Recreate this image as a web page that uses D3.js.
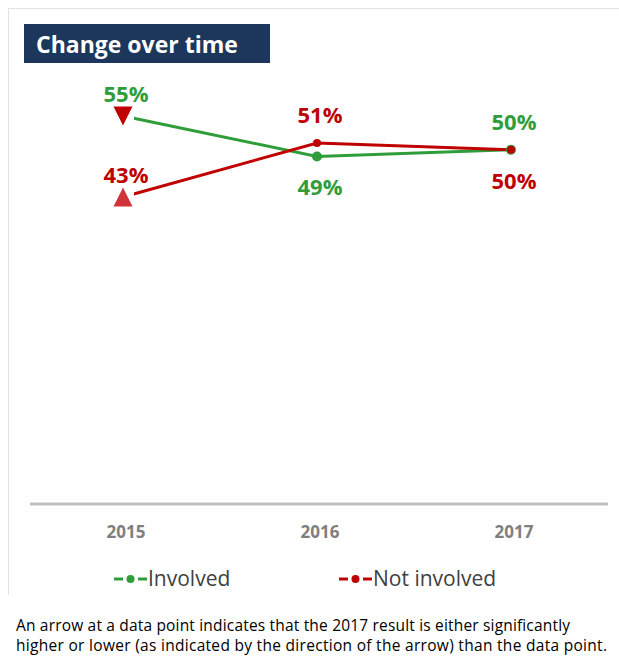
<!DOCTYPE html>
<html>
<head>
<meta charset="utf-8">
<script src="https://cdn.jsdelivr.net/npm/d3@7"></script>
<style>
  body { margin: 0; background: #fff; }
  svg { display: block; font-family: 'Open Sans', 'Noto Sans', sans-serif; }
</style>
</head>
<body>
<div id="chart"></div>
<script>
// Data
var years = ['2015', '2016', '2017'];
var involved = [55, 49, 50];
var notInvolved = [43, 51, 50];
// arrow = significance marker vs 2017, null = plain dot
var involvedArrows = ['down', null, null];
var notInvolvedArrows = ['up', null, null];
// where the value label sits
var involvedLabelSide = ['above', 'below', 'above'];
var notInvolvedLabelSide = ['above', 'above', 'below'];
var seriesNames = ['Involved', 'Not involved'];
var footnoteLines = [
  'An arrow at a data point indicates that the 2017 result is either significantly',
  'higher or lower (as indicated by the direction of the arrow) than the data point.'
];

var attrs = {
  svgWidth: 619,
  svgHeight: 659,
  green: '#2f9e3a',
  red: '#c00000',
  redLight: '#d0343a',
  axisColor: '#bfbfbf',
  tickColor: '#7f7f7f',
  textColor: '#404040',
  titleFill: '#1c365c'
};

var series = [
  { name: seriesNames[0], values: involved, arrows: involvedArrows, sides: involvedLabelSide, color: attrs.green },
  { name: seriesNames[1], values: notInvolved, arrows: notInvolvedArrows, sides: notInvolvedLabelSide, color: attrs.red }
];

var svg = d3.select('#chart').append('svg')
  .attr('width', attrs.svgWidth)
  .attr('height', attrs.svgHeight);

// panel border (open on the right)
svg.append('path')
  .attr('d', 'M8.5,595 V8.5 H619')
  .attr('fill', 'none')
  .attr('stroke', '#e3e3e3')
  .attr('stroke-width', 1);

// title box
svg.append('rect')
  .attr('x', 24).attr('y', 24)
  .attr('width', 246).attr('height', 39)
  .attr('fill', attrs.titleFill);
svg.append('text')
  .attr('x', 36).attr('y', 53)
  .attr('fill', '#fff')
  .attr('font-size', 23)
  .attr('font-weight', 700)
  .text('Change over time');

// scales
var x = d3.scalePoint().domain(years).range([123, 511]);
var y = d3.scaleLinear().domain([0, 55]).range([487, 116]);

// axis line + year labels
svg.append('line')
  .attr('x1', 30).attr('x2', 608)
  .attr('y1', 504).attr('y2', 504)
  .attr('stroke', attrs.axisColor)
  .attr('stroke-width', 3);

svg.selectAll('.year')
  .data(years)
  .enter().append('text')
  .attr('class', 'year')
  .attr('x', function (d) { return x(d) + 3; })
  .attr('y', 538)
  .attr('text-anchor', 'middle')
  .attr('font-size', 17)
  .attr('font-weight', 700)
  .attr('fill', attrs.tickColor)
  .text(function (d) { return d; });

var line = d3.line()
  .x(function (d, i) { return x(years[i]); })
  .y(function (d) { return y(d); });

var chart = svg.append('g');

series.forEach(function (s) {
  chart.append('path')
    .datum(s.values)
    .attr('d', line)
    .attr('fill', 'none')
    .attr('stroke', s.color)
    .attr('stroke-width', 3);
});

// markers
series.forEach(function (s, si) {
  s.values.forEach(function (v, i) {
    var cx = x(years[i]), cy = y(v);
    var a = s.arrows[i];
    if (a) {
      // white box behind the arrow hides the line end like the original
      chart.append('rect')
        .attr('x', cx - 11).attr('y', cy - 11)
        .attr('width', 22).attr('height', 22)
        .attr('fill', '#fff');
      var h = 19, w = 19;
      var pts = a === 'up'
        ? [[cx - w / 2, cy + h / 2], [cx + w / 2, cy + h / 2], [cx, cy - h / 2]]
        : [[cx - w / 2, cy - h / 2], [cx + w / 2, cy - h / 2], [cx, cy + h / 2]];
      chart.append('path')
        .attr('d', 'M' + pts.join('L') + 'Z')
        .attr('fill', a === 'up' ? attrs.redLight : attrs.red);
    } else {
      chart.append('circle')
        .attr('cx', cx).attr('cy', cy)
        .attr('r', si === 0 ? 5 : 4)
        .attr('fill', s.color);
    }
  });
});

// value labels
series.forEach(function (s) {
  s.values.forEach(function (v, i) {
    var cy = y(v);
    var above = s.sides[i] === 'above';
    var dy = above ? (s.arrows[i] ? -14 : -20) : 39;
    chart.append('text')
      .attr('x', x(years[i]) + 3)
      .attr('y', cy + dy)
      .attr('text-anchor', 'middle')
      .attr('font-size', 22)
      .attr('font-weight', 700)
      .attr('fill', s.color)
      .text(v + '%');
  });
});

// legend
var legendX = [114, 339];
var legend = svg.selectAll('.legend')
  .data(series)
  .enter().append('g')
  .attr('class', 'legend')
  .attr('transform', function (d, i) { return 'translate(' + legendX[i] + ',579)'; });

legend.append('line')
  .attr('x1', 0).attr('x2', 33)
  .attr('y1', 0).attr('y2', 0)
  .attr('stroke', function (d) { return d.color; })
  .attr('stroke-width', 3)
  .attr('stroke-dasharray', '9,15,9');
legend.append('circle')
  .attr('cx', 16.5).attr('cy', 0).attr('r', 4)
  .attr('fill', function (d) { return d.color; });
legend.append('text')
  .attr('x', 34).attr('y', 7)
  .attr('font-size', 21)
  .attr('fill', attrs.textColor)
  .text(function (d) { return d.name; });

// footnote
var footWidths = [554, 591];
svg.selectAll('.foot')
  .data(footnoteLines)
  .enter().append('text')
  .attr('class', 'foot')
  .attr('x', 16)
  .attr('y', function (d, i) { return 631 + i * 20; })
  .attr('font-size', 15.5)
  .attr('textLength', function (d, i) { return footWidths[i]; })
  .attr('lengthAdjust', 'spacing')
  .attr('fill', '#000')
  .text(function (d) { return d; });
</script>
</body>
</html>
